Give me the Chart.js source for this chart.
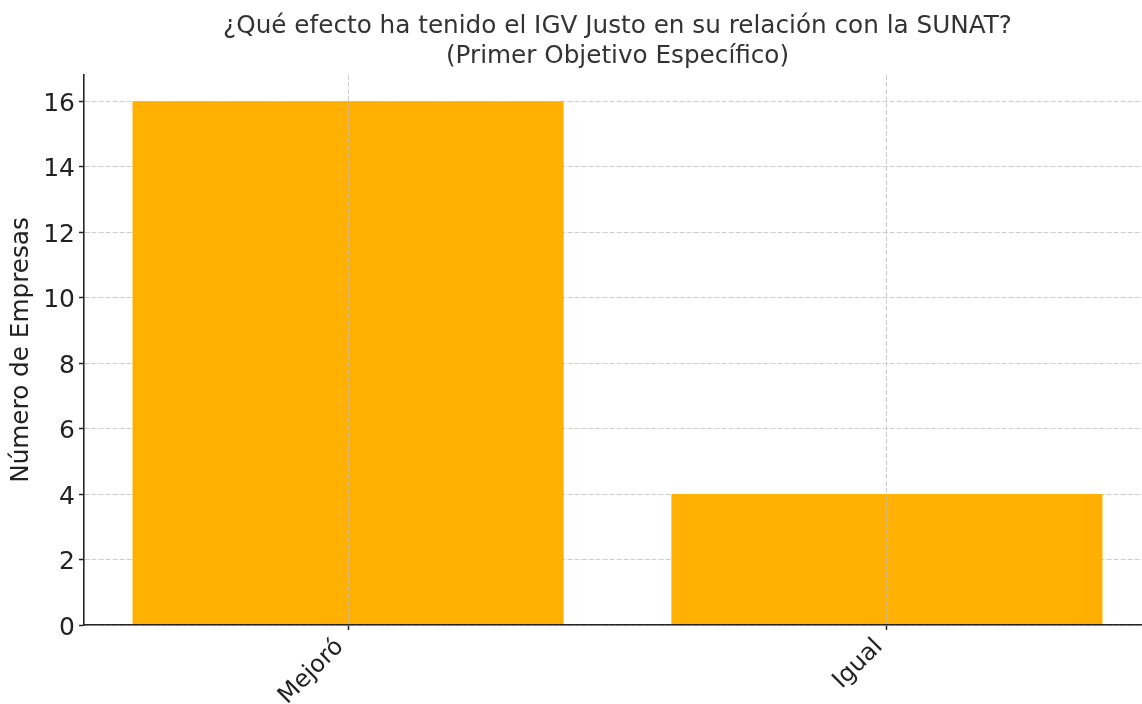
<!DOCTYPE html>
<html>
<head>
<meta charset="utf-8">
<script src="https://cdn.jsdelivr.net/npm/chart.js@4"></script>
<style>
html,body{margin:0;padding:0;background:#fff;overflow:hidden;}
#wrap{width:1160px;height:704px;position:relative;}
</style>
</head>
<body>
<div id="wrap"><canvas id="c"></canvas></div>
<script>
const titleLines = ['¿Qué efecto ha tenido el IGV Justo en su relación con la SUNAT?', '(Primer Objetivo Específico)'];
const categories = ['Mejoró', 'Igual'];
const values = [16, 4];
const yTicks = [0, 2, 4, 6, 8, 10, 12, 14, 16];
const yLabel = 'Número de Empresas';

const FONT = "'DejaVu Sans', sans-serif";

new Chart(document.getElementById('c'), {
  type: 'bar',
  data: {
    datasets: [{
      data: values.map((v, i) => ({ x: i, y: v })),
      backgroundColor: '#FFB000',
      borderWidth: 0,
      barPercentage: 1.0,
      categoryPercentage: 0.8
    }]
  },
  options: {
    responsive: true,
    maintainAspectRatio: false,
    animation: false,
    layout: { padding: { left: 0, right: 9, top: 0, bottom: 0 } },
    plugins: {
      legend: { display: false },
      tooltip: { enabled: false },
      title: {
        display: true,
        fullSize: false,
        text: titleLines,
        color: '#333333',
        font: { family: FONT, size: 24.7, weight: 'normal', lineHeight: 1.215 },
        padding: { top: 12, bottom: 3 }
      }
    },
    scales: {
      x: {
        type: 'linear',
        min: -0.49,
        max: 1.49,
        offset: false,
        afterBuildTicks: s => { s.ticks = categories.map((c, i) => ({ value: i })); },
        afterFit: s => { s.height = 79; },
        ticks: {
          callback: v => categories[v],
          minRotation: 45,
          maxRotation: 45,
          autoSkip: false,
          labelOffset: -8,
          color: '#222222',
          padding: 3,
          font: { family: FONT, size: 24 }
        },
        grid: {
          display: true,
          z: 1,
          offset: false,
          drawOnChartArea: true,
          color: 'rgba(190,190,190,0.75)',
          lineWidth: 1,
          drawTicks: true,
          tickLength: 5,
          tickColor: '#262626',
          tickWidth: 1.5,
          tickBorderDash: []
        },
        border: { display: true, color: '#262626', width: 1.6, dash: [5, 2], z: 2 }
      },
      y: {
        type: 'linear',
        min: 0,
        max: 16.8,
        afterBuildTicks: s => { s.ticks = yTicks.map(v => ({ value: v })); },
        afterFit: s => { s.width = 84; },
        ticks: {
          color: '#222222',
          padding: 4,
          labelOffset: 3,
          font: { family: FONT, size: 25 }
        },
        title: {
          display: true,
          text: yLabel,
          color: '#222222',
          font: { family: FONT, size: 24.7 },
          padding: { top: 7, bottom: 0 }
        },
        grid: {
          display: true,
          drawOnChartArea: true,
          color: 'rgba(190,190,190,0.75)',
          lineWidth: 1,
          drawTicks: true,
          tickLength: 5,
          tickColor: '#262626',
          tickWidth: 1.5,
          tickBorderDash: []
        },
        border: { display: true, color: '#262626', width: 1.6, dash: [5, 2], z: 2 }
      }
    }
  }
});
</script>
</body>
</html>
